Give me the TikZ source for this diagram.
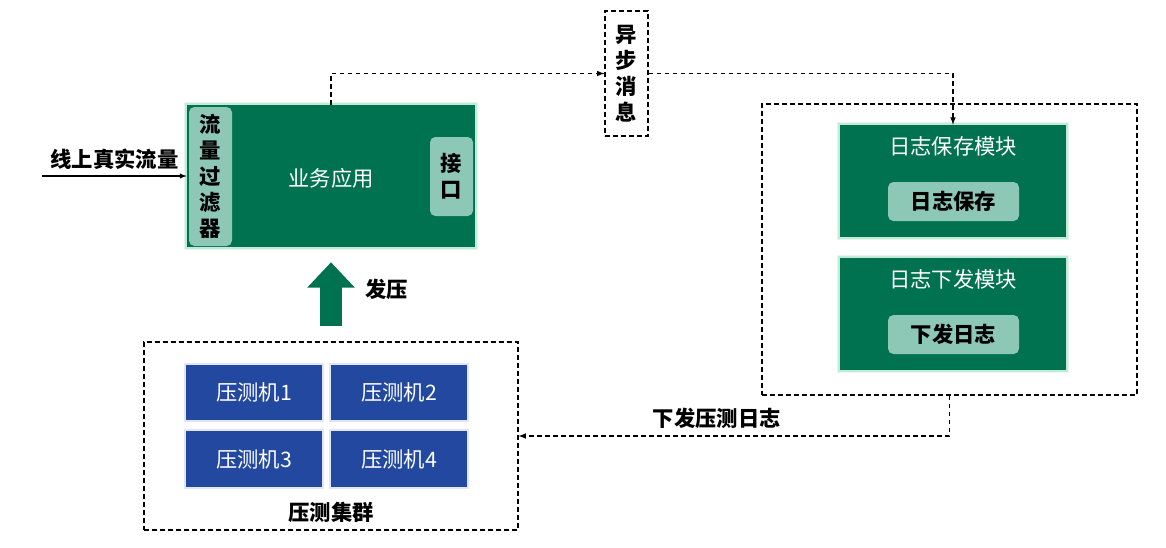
\documentclass[tikz,border=0pt]{standalone}
\usepackage{fontspec}
\setmainfont{Noto Sans CJK SC}
\usepackage{tikz}
\usetikzlibrary{arrows, arrows.meta, positioning}

\definecolor{appgreen}{RGB}{0,114,80}
\definecolor{lightteal}{RGB}{141,200,182}
\definecolor{glowgreen}{RGB}{150,220,190}
\definecolor{testblue}{RGB}{35,72,160}
\definecolor{glowblue}{RGB}{170,180,230}

\begin{document}
\begin{tikzpicture}[x=0.75pt, y=-0.75pt,
			>=latex,   % Pfeilspitzen
			font=\fontsize{16}{19}\selectfont,
			greenbox/.style={fill=appgreen, preaction={draw=glowgreen, line width=5pt, opacity=.25}, preaction={draw=glowgreen, line width=2.5pt, opacity=.45}, inner sep=0pt},
			tealbox/.style={fill=lightteal, rounded corners=4pt, inner sep=0pt, font=\fontsize{16}{19.5}\selectfont\bfseries, align=center},
			bluebox/.style={fill=testblue, text=white, preaction={draw=glowblue, line width=3pt, opacity=.35}, minimum width=102pt, minimum height=41.5pt, inner sep=0pt},
			dashbox/.style={draw, dash pattern=on 3.5pt off 2.5pt, line width=0.9pt},
			dashline/.style={draw, dash pattern=on 3.5pt off 2.5pt, line width=0.9pt, ->},
			bold/.style={font=\fontsize{16}{19.5}\selectfont\bfseries}]
			% Rahmen
			\useasboundingbox (0,0) rectangle (1166,547);
			% Business-Anwendung
			\node[greenbox, minimum width=216pt, minimum height=106.5pt] (app) at (331,176) {};
			\node[text=white] (applbl) at (331,178) {业务应用};
			\node[tealbox, minimum width=32.25pt, minimum height=104.25pt] (filter) at (210.5,176.5) {流\\量\\过\\滤\\器};
			\node[tealbox, minimum width=32.25pt, minimum height=59.25pt] (port) at (451.5,176.5) {接\\口};
			% Eingang
			\coordinate (src) at (42,176);
			\draw[->, line width=0.8pt] (src) -- (app.west) node[midway, above=1pt, bold] (inlbl) {线上真实流量};
			% Asynchrone Nachricht
			\node[dashbox, bold, align=center, minimum width=32.25pt, minimum height=93.75pt, inner sep=0pt] (async) at (626.5,73.5) {异\\步\\消\\息};
			% Log-Module
			\node[dashbox, minimum width=281.25pt, minimum height=218.25pt] (logbox) at (949.5,249.5) {};
			\node[greenbox, minimum width=169.5pt, minimum height=84pt] (savemod) at (953,181) {};
			\node[text=white] (savettl) at (953,146) {日志保存模块};
			\node[tealbox, minimum width=98.25pt, minimum height=29.25pt] (save) at (953.5,201.5) {日志保存};
			\node[greenbox, minimum width=169.5pt, minimum height=84pt] (sendmod) at (953,314) {};
			\node[text=white] (sendttl) at (953,279) {日志下发模块};
			\node[tealbox, minimum width=98.25pt, minimum height=29.25pt] (send) at (953.5,334.5) {下发日志};
			% Lasttest-Cluster
			\node[dashbox, minimum width=280.5pt, minimum height=141pt] (cluster) at (331,436) {};
			\node[bold] (clusterlbl) at (331,512) {压测集群};
			\node[bluebox] (m1) at (254,392.5) {压测机1};
			\node[bluebox] (m2) at (399,392.5) {压测机2};
			\node[bluebox] (m3) at (254,459) {压测机3};
			\node[bluebox] (m4) at (399,459) {压测机4};
			% Verbindungen
			\draw[dashline] (app.north) |- (async.west);
			\draw[dashline] (async.east) -| (savemod.north);
			\draw[dashline] (logbox.south) |- (cluster.east) node[pos=0.77, above=2pt, bold] (loglbl) {下发压测日志};
			\draw[appgreen, line width=16.5pt, shorten <=15pt*0.75, shorten >=15pt*0.75,
				-{Triangle[width=34.5pt, length=19pt]}] (cluster.north) -- (app.south)
				node[pos=0.55, right=14pt, bold, text=black] (pushlbl) {发压};
		\end{tikzpicture}
\end{document}
